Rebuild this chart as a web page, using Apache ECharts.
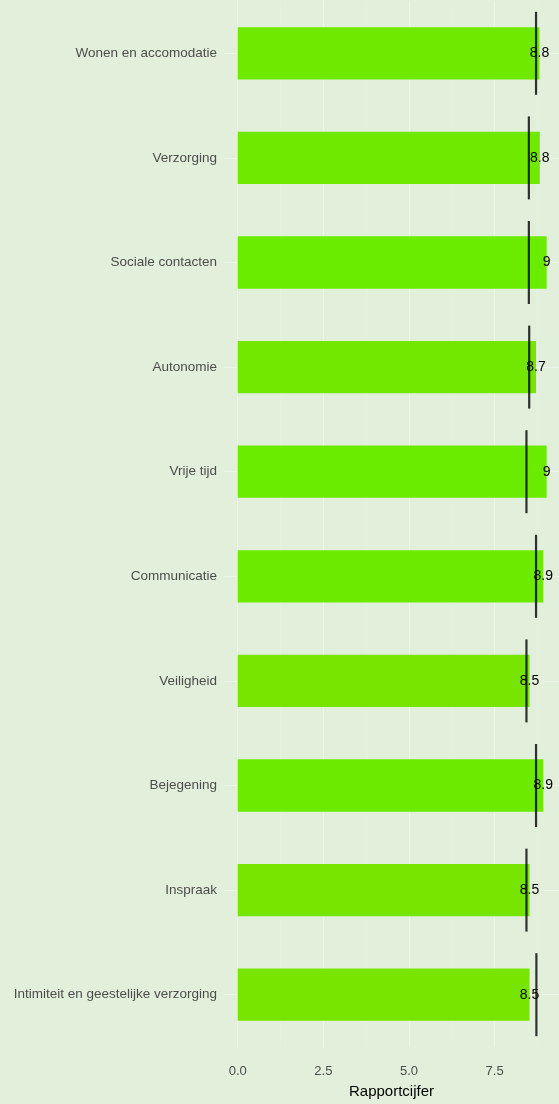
<!DOCTYPE html>
<html>
<head>
<meta charset="utf-8">
<script src="https://cdn.jsdelivr.net/npm/echarts@6/dist/echarts.min.js"></script>
<style>
html, body { margin: 0; padding: 0; background: #E2EFDA; }
#main { width: 559px; height: 1104px; }
</style>
</head>
<body>
<div id="main"></div>
<script>
// rapportcijfers per thema, met benchmark (zwarte streep)
var categories = ['Wonen en accomodatie', 'Verzorging', 'Sociale contacten', 'Autonomie', 'Vrije tijd',
    'Communicatie', 'Veiligheid', 'Bejegening', 'Inspraak', 'Intimiteit en geestelijke verzorging'];
var scores = [8.81, 8.82, 9.02, 8.71, 9.02, 8.92, 8.52, 8.92, 8.52, 8.52];
var benchmarks = [8.71, 8.5, 8.5, 8.51, 8.43, 8.71, 8.43, 8.71, 8.43, 8.72];
var xTicks = [0, 2.5, 5, 7.5];
var xMinor = [1.25, 3.75, 6.25, 8.75];

var font = 'Liberation Sans, Arial, sans-serif';

var gridLines = [];
xTicks.forEach(function (v) {
    gridLines.push({ xAxis: v, lineStyle: { color: '#EDF5E8', width: 1, type: 'solid' } });
});
xMinor.forEach(function (v) {
    gridLines.push({ xAxis: v, lineStyle: { color: '#E8F2E2', width: 0.6, type: 'solid' } });
});
categories.forEach(function (c) {
    gridLines.push({ yAxis: c, lineStyle: { color: '#EDF5E8', width: 1, type: 'solid' } });
});

var option = {
    backgroundColor: '#E2EFDA',
    animation: false,
    textStyle: { fontFamily: font },
    grid: { left: 224, right: 0, top: 1, bottom: 55 },
    visualMap: {
        show: false,
        type: 'continuous',
        seriesIndex: 0,
        dimension: 0,
        min: 8.5,
        max: 9,
        inRange: { color: ['#78E500', '#6AEC00'] }
    },
    xAxis: {
        type: 'value',
        min: -0.4,
        max: 9.38,
        name: 'Rapportcijfer',
        nameLocation: 'middle',
        nameGap: 37,
        nameTextStyle: { color: '#000', fontSize: 15, fontFamily: font },
        axisLine: { show: false },
        axisTick: { show: false },
        splitLine: { show: false },
        axisLabel: {
            customValues: xTicks,
            formatter: function (v) { return v.toFixed(1); },
            color: '#4D4D4D',
            fontSize: 13,
            margin: 18,
            fontFamily: font
        }
    },
    yAxis: {
        type: 'category',
        data: categories,
        inverse: true,
        axisLine: { show: false },
        axisTick: { show: false },
        splitLine: { show: false },
        axisLabel: { color: '#4D4D4D', fontSize: 13.5, margin: 7, fontFamily: font }
    },
    series: [
        {
            type: 'bar',
            data: scores,
            barWidth: '50%',
            z: 2,
            label: {
                show: true,
                position: ['100%', '50%'],
                align: 'center',
                verticalAlign: 'middle',
                color: '#000',
                fontSize: 14,
                fontFamily: font,
                formatter: function (p) { return String(Math.round(p.value * 10) / 10); }
            },
            markLine: {
                silent: true,
                z: 1,
                symbol: 'none',
                label: { show: false },
                animation: false,
                data: gridLines
            }
        },
        {
            type: 'scatter',
            data: benchmarks.map(function (v, i) { return [v, i]; }),
            symbol: 'rect',
            symbolSize: [2.2, 83],
            itemStyle: { color: '#000' },
            z: 4,
            silent: true
        }
    ]
};

var chart = echarts.init(document.getElementById('main'));
chart.setOption(option);
</script>
</body>
</html>
